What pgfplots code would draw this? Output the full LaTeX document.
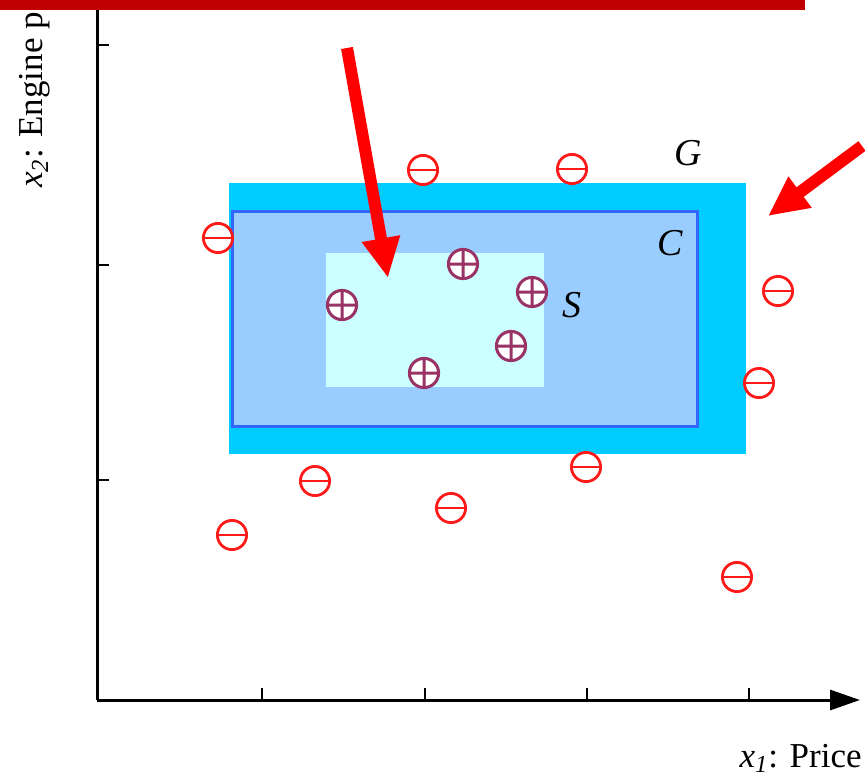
\documentclass[border=0pt]{standalone}
\usepackage{pgfplots}
\pgfplotsset{compat=1.18}
\usepackage{fontspec}
\setmainfont{Liberation Serif}
\usetikzlibrary{arrows.meta,plotmarks}
\definecolor{gcol}{HTML}{00CCFF}
\definecolor{ccol}{HTML}{99CCFF}
\definecolor{cedge}{HTML}{3366FF}
\definecolor{scol}{HTML}{CCFFFF}
\definecolor{poscol}{HTML}{993366}
\definecolor{negcol}{HTML}{FF1A1A}
\definecolor{barcol}{HTML}{C00000}
\pgfdeclareplotmark{ominus*}{%
  \pgfpathcircle{\pgfpointorigin}{\pgfplotmarksize}\pgfusepathqfillstroke
  \pgfpathmoveto{\pgfqpoint{-1.1\pgfplotmarksize}{0pt}}%
  \pgfpathlineto{\pgfqpoint{1.1\pgfplotmarksize}{0pt}}\pgfusepathqstroke}
\begin{document}
\begin{tikzpicture}
\begin{axis}[
  scale only axis, width=381.5pt, height=350pt,
  xmin=0, xmax=763, ymin=0, ymax=700, enlargelimits=false,
  axis x line=bottom, axis y line=left,
  axis line style={line width=1.5pt, black},
  x axis line style={-{Triangle[length=15pt,width=10pt]}},
  y axis line style={-},
  xtick={165,328,490,652}, ytick={220,435,655},
  xticklabels={}, yticklabels={},
  tick align=inside, major tick length=6pt,
  tick style={line width=1.3pt, black},
  clip=false,
]
% version space rectangles
\addplot[fill=gcol, draw=none] coordinates {(132,246) (649,246) (649,517) (132,517)} --cycle;
\addplot[fill=ccol, draw=cedge, line width=1.5pt] coordinates {(135,274) (600,274) (600,489) (135,489)} --cycle;
\addplot[fill=scol, draw=none] coordinates {(229,313) (447,313) (447,447) (229,447)} --cycle;
% positive examples
\addplot[only marks, mark=oplus*, mark size=7.3pt, draw=poscol, fill=white, line width=1.5pt]
  coordinates {(366,436) (245,395) (435,408) (414,354) (327,327)};
% negative examples
\addplot[only marks, mark=ominus*, mark size=7.3pt, draw=negcol, fill=white, line width=1.4pt]
  coordinates {(326,530) (475,531) (121,462) (681,409) (662,317) (489,233) (218,219) (354,192) (135,165) (640,123)};
% labels
\node[font=\fontsize{19}{21}\selectfont\itshape] at (axis cs:591,547) {G};
\node[font=\fontsize{19}{21}\selectfont\itshape] at (axis cs:573,457) {C};
\node[font=\fontsize{19}{21}\selectfont\itshape] at (axis cs:475,395) {S};
\node[font=\fontsize{17.5}{20}\selectfont, anchor=base east, inner sep=0pt] at (axis cs:765,-67) {\textit{x}\textsubscript{\textit{1}}: Price};
\node[font=\fontsize{17.5}{20}\selectfont, anchor=base west, rotate=90, inner sep=0pt] at (axis cs:-54,512) {\textit{x}\textsubscript{\textit{2}}: Engine p};
% red arrows
\draw[red, line width=6pt, -{Triangle[length=20pt,width=18pt]}] (axis cs:250,652) -- (axis cs:291,422);
\draw[red, line width=6pt, -{Triangle[length=20pt,width=18pt]}] (axis cs:765,554) -- (axis cs:671,484);
% top bar
\fill[barcol] (axis cs:-97,690) rectangle (axis cs:708,700);
\coordinate (bl) at (axis cs:-97,-78);
\coordinate (tr) at (axis cs:768,700);
\end{axis}
\pgfresetboundingbox
\path (bl) rectangle (tr);
\end{tikzpicture}
\end{document}
